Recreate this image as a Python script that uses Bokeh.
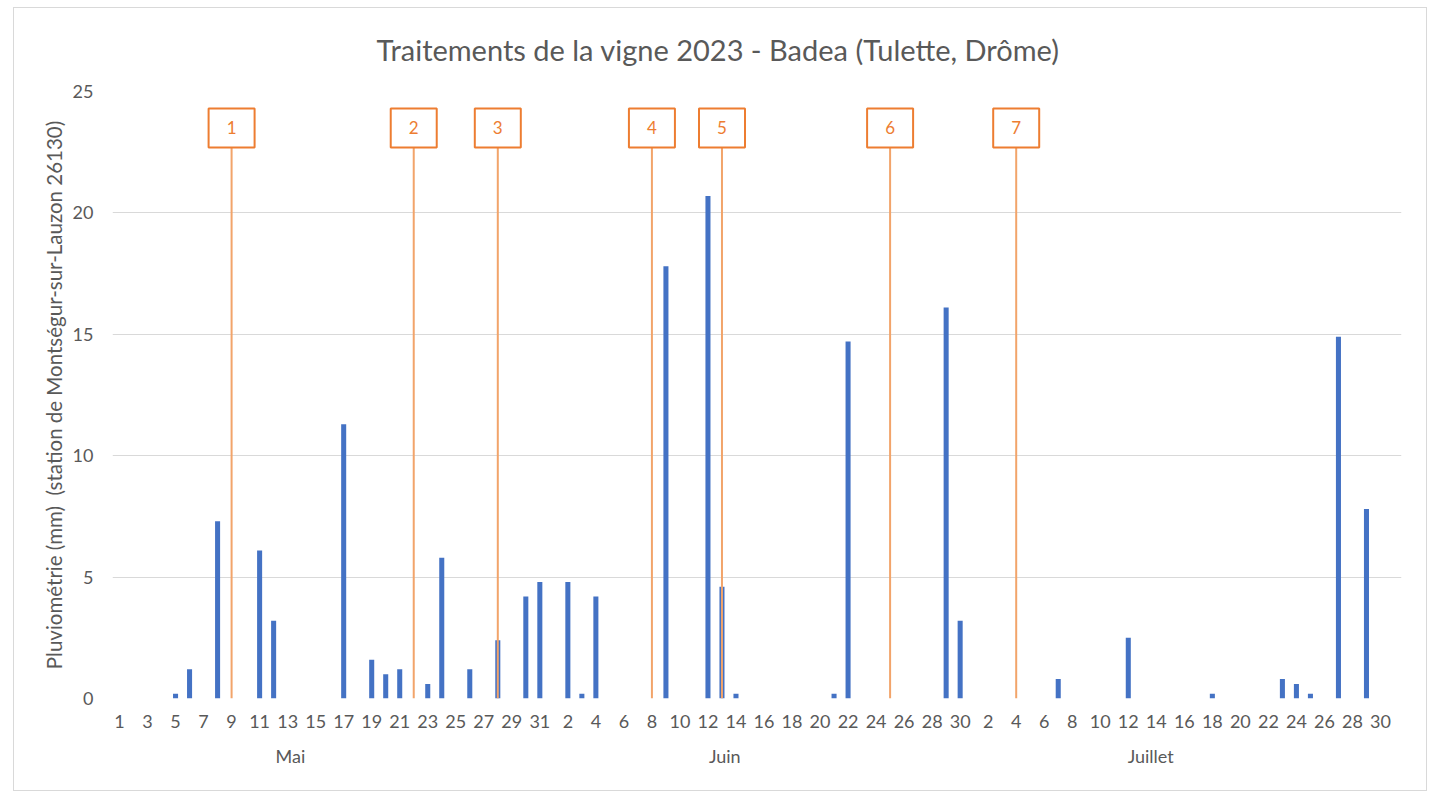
from bokeh.plotting import figure
from bokeh.models import Range1d, FixedTicker, LinearAxis, Title
from bokeh.core.properties import value
from bokeh.embed import file_html
from bokeh.resources import INLINE

# ---------------- data ----------------
months = ["Mai", "Juin", "Juillet"]
month_lengths = [31, 30, 31]

mai_mm = [0, 0, 0, 0, 0.2, 1.2, 0, 7.3, 0, 0,
          6.1, 3.2, 0, 0, 0, 0, 11.3, 0, 1.6, 1.0,
          1.2, 0, 0.6, 5.8, 0, 1.2, 0, 2.4, 0, 4.2,
          4.8]
juin_mm = [0, 4.8, 0.2, 4.2, 0, 0, 0, 0, 17.8, 0,
           0, 20.7, 4.6, 0.2, 0, 0, 0, 0, 0, 0,
           0.2, 14.7, 0, 0, 0, 0, 0, 0, 16.1, 3.2]
juillet_mm = [0, 0, 0, 0, 0, 0, 0.8, 0, 0, 0,
              0, 2.5, 0, 0, 0, 0, 0, 0.2, 0, 0,
              0, 0, 0.8, 0.6, 0.2, 0, 14.9, 0, 7.8, 0,
              0]

treat_labels = ["1", "2", "3", "4", "5", "6", "7"]
treat_month = ["Mai", "Mai", "Mai", "Juin", "Juin", "Juin", "Juillet"]
treat_day = [9, 22, 28, 8, 13, 25, 4]

y_ticks = [0, 5, 10, 15, 20, 25]
title_text = "Traitements de la vigne 2023 - Badea (Tulette, Drôme)"
y_label = "Pluviométrie (mm)\u00a0\u00a0(station de Montségur-sur-Lauzon 26130)"

# layout position (in day-index units) of the month group labels
month_label_pos = [12.2, 43.2, 73.6]

# ---------------- derived ----------------
rain = mai_mm + juin_mm + juillet_mm
day_nums = []
month_start = {}
idx = 0
for m, n in zip(months, month_lengths):
    month_start[m] = idx
    for d in range(1, n + 1):
        day_nums.append(d)
    idx += n
x_idx = list(range(len(rain)))
treat_x = [month_start[m] + d - 1 for m, d in zip(treat_month, treat_day)]

FONT = "Lato"
GREY = "#595959"

p = figure(frame_width=1289, frame_height=607,
           x_range=Range1d(-0.5, len(rain) - 0.5), y_range=Range1d(0, 25),
           output_backend="svg", toolbar_location=None,
           min_border_left=98, min_border_right=25,
           min_border_top=82, min_border_bottom=92)
p.outline_line_color = None
p.background_fill_color = "white"
p.border_fill_color = "white"
p.styles = {"border": "1px solid #d9d9d9", "margin-left": "13px", "margin-top": "7px"}

# title
p.add_layout(Title(text=title_text, align="left", offset=264, standoff=46,
                   vertical_align="top",
                   text_font=FONT, text_font_size="29px", text_font_style="normal",
                   text_color=GREY), "above")

# axes
p.xgrid.grid_line_color = None
p.ygrid.grid_line_color = "#d9d9d9"
p.ygrid.grid_line_width = 1

p.yaxis.ticker = FixedTicker(ticks=y_ticks)
p.yaxis.axis_line_color = None
p.yaxis.major_tick_line_color = None
p.yaxis.minor_tick_line_color = None
p.yaxis.major_tick_out = 0
p.yaxis.minor_tick_out = 0
p.yaxis.major_label_standoff = 19
p.yaxis.major_label_text_font = FONT
p.yaxis.major_label_text_font_size = "18px"
p.yaxis.major_label_text_color = GREY
p.yaxis.axis_label = y_label
p.yaxis.axis_label_text_font = FONT
p.yaxis.axis_label_text_font_size = "20.5px"
p.yaxis.axis_label_text_font_style = "normal"
p.yaxis.axis_label_text_color = GREY
p.yaxis.axis_label_standoff = 4

xt = list(range(0, len(rain) - 1, 2))
p.xaxis.ticker = FixedTicker(ticks=xt)
p.xaxis.major_label_overrides = {i: str(day_nums[i]) for i in xt}
p.xaxis.axis_line_color = None
p.xaxis.major_tick_line_color = None
p.xaxis.minor_tick_line_color = None
p.xaxis.major_tick_out = 0
p.xaxis.minor_tick_out = 0
p.xaxis.major_label_standoff = 16
p.xaxis.major_label_text_font = FONT
p.xaxis.major_label_text_font_size = "18px"
p.xaxis.major_label_text_color = GREY

month_axis = LinearAxis(ticker=FixedTicker(ticks=month_label_pos),
                        major_label_overrides={pos: m for pos, m in zip(month_label_pos, months)})
month_axis.axis_line_color = None
month_axis.major_tick_line_color = None
month_axis.minor_tick_line_color = None
month_axis.major_tick_out = 0
month_axis.minor_tick_out = 0
month_axis.major_label_standoff = 14
month_axis.major_label_text_font = FONT
month_axis.major_label_text_font_size = "18px"
month_axis.major_label_text_color = GREY
p.add_layout(month_axis, "below")

# bars
p.vbar(x=x_idx, top=rain, width=0.36, bottom=0, fill_color="#4472C4", line_color=None)

# treatment markers
p.segment(x0=treat_x, y0=[0] * len(treat_x), x1=treat_x, y1=[22.7] * len(treat_x),
          line_color="#F2A46A", line_width=2)
p.rect(x=treat_x, y=[23.5] * len(treat_x), width=46, height=39,
       width_units="screen", height_units="screen",
       fill_color="white", line_color="#ED7D31", line_width=2)
p.text(x=treat_x, y=[23.5] * len(treat_x), text=treat_labels,
       text_align="center", text_baseline="middle",
       text_color="#ED7D31", text_font=value(FONT), text_font_size="17px")

open("out.html", "w").write(file_html(p, INLINE))
